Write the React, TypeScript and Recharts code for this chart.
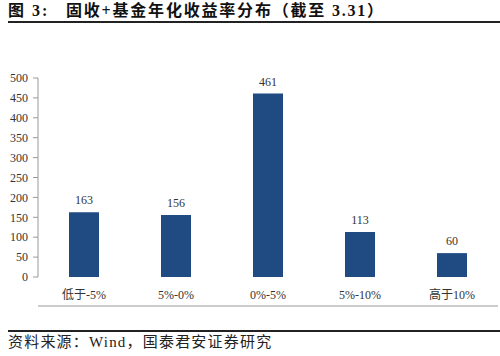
import React from 'react';
import { BarChart, Bar, XAxis, YAxis, LabelList } from 'recharts';

const categories = ['低于-5%', '5%-0%', '0%-5%', '5%-10%', '高于10%'];
const counts = [163, 156, 461, 113, 60];
const yTicks = [0, 50, 100, 150, 200, 250, 300, 350, 400, 450, 500];
const boundaryTicks = [0, 1, 2, 3, 4, 5];

const data = categories.map((c, i) => ({ name: c, value: counts[i], pos: i + 0.5 }));

const FONT = '"Times New Roman", "Liberation Serif", "Noto Sans CJK SC", serif';

export default function App() {
  return (
    <div style={{ position: 'absolute', left: 0, top: 0, width: 500, height: 356, background: '#fff', fontFamily: FONT, overflow: 'hidden' }}>
      <div style={{ position: 'absolute', left: 8, top: 1, fontSize: 16, fontWeight: 'bold', color: '#111', whiteSpace: 'nowrap', lineHeight: '20px', letterSpacing: 2 }}>
        图 3:
      </div>
      <div style={{ position: 'absolute', left: 66, top: 1, fontSize: 16, fontWeight: 'bold', color: '#111', whiteSpace: 'nowrap', lineHeight: '20px', letterSpacing: 1.8 }}>
        固收+基金年化收益率分布（截至 3.31）
      </div>
      <div style={{ position: 'absolute', left: 8, top: 21, width: 492, height: 2, background: '#222' }} />
      <div style={{ position: 'absolute', left: 0, top: 0 }}>
        <BarChart width={500} height={320} data={data} margin={{ top: 78, right: 2, left: 8, bottom: 13 }}>
          <XAxis
            xAxisId="grid"
            type="number"
            dataKey="pos"
            domain={[0, 5]}
            ticks={boundaryTicks}
            height={1}
            axisLine={{ stroke: '#999' }}
            tick={false}
            tickLine={{ stroke: '#999' }}
            tickSize={4}
          />
          <XAxis
            dataKey="name"
            xAxisId="cat"
            height={29}
            axisLine={false}
            tickLine={false}
            tickMargin={7}
            tick={{ fontSize: 12, fill: '#333', fontFamily: FONT }}
            interval={0}
          />
          <YAxis
            width={30}
            domain={[0, 500]}
            ticks={yTicks}
            interval={0}
            axisLine={{ stroke: '#999' }}
            tickLine={{ stroke: '#999' }}
            tickSize={5}
            tickMargin={5}
            tick={{ fontSize: 12, fill: '#333', fontFamily: FONT }}
          />
          <Bar dataKey="value" xAxisId="cat" fill="#1F4A82" barSize={30} isAnimationActive={false}>
            <LabelList dataKey="value" position="top" offset={8} style={{ fontSize: 12, fill: '#333', fontFamily: FONT }} />
          </Bar>
        </BarChart>
      </div>
      <div style={{ position: 'absolute', left: 8, top: 330, width: 492, height: 1.5, background: '#222' }} />
      <div style={{ position: 'absolute', left: 8, top: 333, fontSize: 15, color: '#222', whiteSpace: 'nowrap', lineHeight: '18px', letterSpacing: 1.2 }}>
        资料来源：Wind，国泰君安证券研究
      </div>
    </div>
  );
}
